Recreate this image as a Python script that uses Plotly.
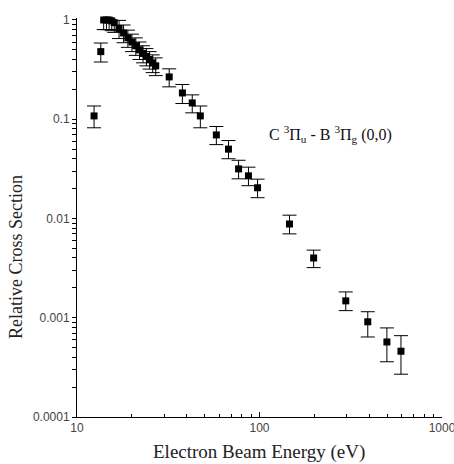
import plotly.graph_objects as go

# Data
energy = [12.4, 13.5, 14.0, 14.5, 15.0, 15.5, 16.0, 17.0, 18.0, 19.0, 20.0, 21.0, 22.0,
          23.0, 24.0, 25.0, 26.0, 27.0, 32.0, 37.8, 42.8, 47.4, 58.0, 67.6, 76.8, 87.0,
          97.6, 146.0, 198.0, 297.0, 392.0, 499.0, 596.0]
cross_section = [0.108, 0.48, 1.0, 1.0, 1.0, 0.98, 0.94, 0.82, 0.74, 0.66, 0.60, 0.55, 0.50,
                 0.46, 0.43, 0.40, 0.37, 0.345, 0.267, 0.184, 0.146, 0.108, 0.0695, 0.050,
                 0.0316, 0.0269, 0.0204, 0.0088, 0.0040, 0.00148, 0.00091, 0.00057, 0.00046]
err_plus = [0.028, 0.106, 0.2, 0.2, 0.2, 0.2, 0.19, 0.17, 0.15, 0.13, 0.12, 0.11, 0.10,
            0.09, 0.085, 0.08, 0.075, 0.07, 0.055, 0.04, 0.03, 0.028, 0.015, 0.011,
            0.007, 0.006, 0.0045, 0.002, 0.0008, 0.00034, 0.00024, 0.00022, 0.0002]
err_minus = [0.026, 0.103, 0.2, 0.2, 0.2, 0.2, 0.19, 0.17, 0.15, 0.13, 0.12, 0.11, 0.10,
             0.09, 0.085, 0.08, 0.075, 0.07, 0.055, 0.04, 0.03, 0.026, 0.014, 0.010,
             0.0065, 0.0055, 0.0042, 0.0018, 0.0008, 0.0003, 0.00027, 0.00021, 0.00019]

x_tickvals = [10, 100, 1000]
x_ticktext = ["10", "100", "1000"]
y_tickvals = [1, 0.1, 0.01, 0.001, 0.0001]
y_ticktext = ["1", "0.1", "0.01", "0.001", "0.0001"]
minor_mult = [2, 3, 4, 5, 6, 7, 8, 9]
x_minor = [m * d for d in [10, 100] for m in minor_mult]
y_minor = [m * d for d in [0.0001, 0.001, 0.01, 0.1] for m in minor_mult]

# y axis: major + minor tick marks on one axis, labels only on the majors
y_all_vals = y_tickvals + y_minor
y_all_text = y_ticktext + [""] * len(y_minor)

serif = "Liberation Serif, Times New Roman, serif"
sans = "Liberation Sans, Arial, sans-serif"

XR = [1, 3]
YR = [-4, 0.02]

fig = go.Figure()
fig.add_trace(go.Scatter(
    x=energy, y=cross_section, mode="markers",
    marker=dict(symbol="square", size=7, color="black"),
    error_y=dict(type="data", array=err_plus, arrayminus=err_minus,
                 color="black", thickness=1, width=7, symmetric=False),
    cliponaxis=False, showlegend=False,
))
# invisible trace to host the minor-tick overlay x axis
fig.add_trace(go.Scatter(x=[energy[0]], y=[cross_section[0]], xaxis="x2", yaxis="y",
                         mode="markers", marker=dict(opacity=0), showlegend=False,
                         hoverinfo="skip"))

fig.update_layout(
    width=454, height=464,
    margin=dict(l=77, r=12, t=18, b=47),
    paper_bgcolor="white", plot_bgcolor="white",
    xaxis=dict(
        type="log", range=XR, showgrid=False, zeroline=False, automargin=False,
        showline=True, linecolor="black", linewidth=1,
        tickmode="array", tickvals=x_tickvals, ticktext=x_ticktext,
        ticks="inside", ticklen=5, tickcolor="black", ticklabeloverflow="allow",
        tickfont=dict(family=sans, size=12, color="#444"),
    ),
    yaxis=dict(
        type="log", range=YR, showgrid=False, zeroline=False, automargin=False,
        showline=True, linecolor="black", linewidth=1,
        tickmode="array", tickvals=y_all_vals, ticktext=y_all_text,
        ticks="outside", ticklen=4, tickwidth=1, tickcolor="black",
        ticklabeloverflow="allow",
        tickfont=dict(family=sans, size=12, color="#444"),
    ),
    xaxis2=dict(
        type="log", range=XR, overlaying="x", anchor="free", position=0, side="bottom",
        showgrid=False, zeroline=False, automargin=False, showline=False,
        tickmode="array", tickvals=x_minor, ticks="inside", ticklen=3,
        tickcolor="black", showticklabels=False,
    ),
)

fig.add_annotation(
    text="Electron Beam Energy (eV)", xref="paper", yref="paper",
    x=(259 - 77) / 365, y=-(452 - 417) / 399, showarrow=False,
    font=dict(family=serif, size=19, color="#222"),
    xanchor="center", yanchor="middle",
)
fig.add_annotation(
    text="Relative Cross Section", xref="paper", yref="paper",
    x=(16 - 77) / 365, y=(417 - 257) / 399, showarrow=False, textangle=-90,
    font=dict(family=serif, size=18, color="#222"),
    xanchor="center", yanchor="middle",
)
fig.add_annotation(
    text="C <sup>3</sup>Π<sub>u</sub> - B <sup>3</sup>Π<sub>g</sub> (0,0)",
    xref="paper", yref="paper",
    x=(267 - 77) / 365, y=(417 - 134) / 399, showarrow=False,
    font=dict(family=serif, size=16, color="#111"),
    xanchor="left", yanchor="middle",
)

fig.write_html("out.html")
